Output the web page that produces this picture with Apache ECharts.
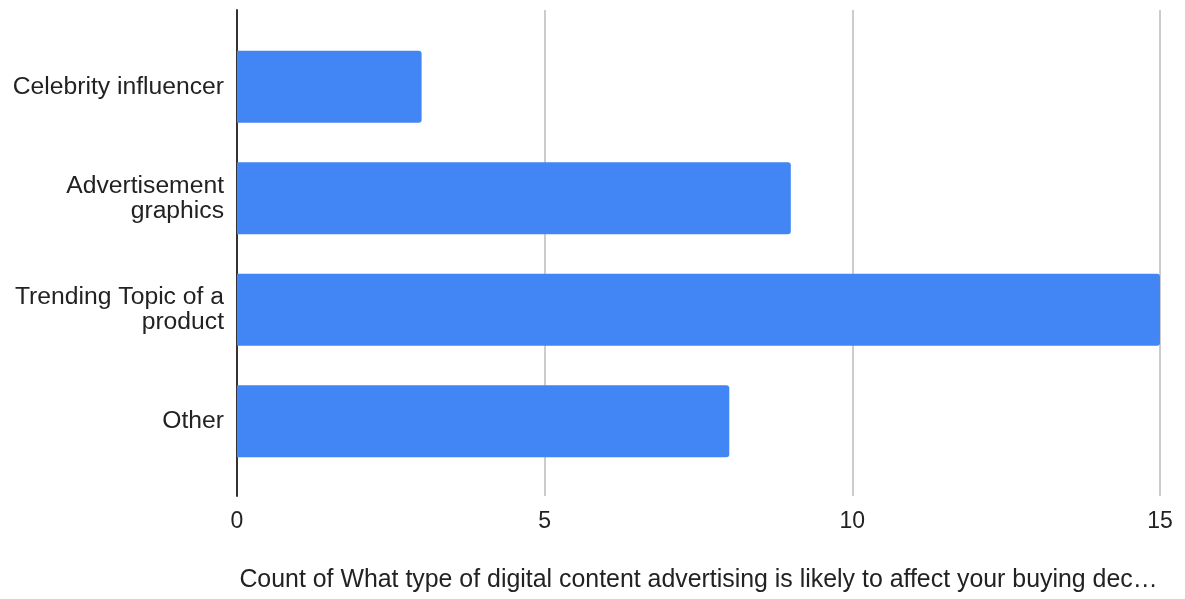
<!DOCTYPE html>
<html>
<head>
<meta charset="utf-8">
<script src="https://cdn.jsdelivr.net/npm/echarts@6/dist/echarts.min.js"></script>
<style>
  html, body { margin: 0; padding: 0; background: #ffffff; }
  #chart { width: 1185px; height: 599px; }
</style>
</head>
<body>
<div id="chart"></div>
<script>
// Answer categories (top to bottom) and their response counts
const categories = [
  'Celebrity influencer',
  'Advertisement\ngraphics',
  'Trending Topic of a\nproduct',
  'Other'
];
const counts = [3, 9, 15, 8];
const xTicks = { min: 0, max: 15, interval: 5 };
const xTitle = 'Count of What type of digital content advertising is likely to affect your buying dec\u2026';

const FONT = 'Liberation Sans, Arial, sans-serif';
const chart = echarts.init(document.getElementById('chart'), null, { renderer: 'canvas' });

chart.setOption({
  animation: false,
  backgroundColor: '#ffffff',
  textStyle: { fontFamily: FONT },
  grid: [
    // frame grid: gridlines, baseline and tick labels
    { left: 237, right: 25, top: 10, bottom: 103, outerBoundsMode: 'none', containLabel: false },
    // bar grid: category bands
    { left: 237, right: 25, top: 31, bottom: 122, outerBoundsMode: 'none', containLabel: false }
  ],
  xAxis: [
    {
      gridIndex: 0,
      type: 'value',
      min: xTicks.min, max: xTicks.max, interval: xTicks.interval,
      axisLine: { show: false },
      axisTick: { show: false },
      splitLine: { show: true, lineStyle: { color: '#cccccc', width: 2 } },
      axisLabel: { color: '#222222', fontSize: 23, fontFamily: FONT, margin: 14 },
      name: xTitle,
      nameLocation: 'middle',
      nameGap: 72,
      nameTextStyle: { color: '#222222', fontSize: 24.9, fontFamily: FONT }
    },
    {
      gridIndex: 1,
      type: 'value',
      min: xTicks.min, max: xTicks.max,
      show: false
    }
  ],
  yAxis: [
    {
      gridIndex: 0,
      type: 'value',
      axisLine: { show: true, lineStyle: { color: '#333333', width: 2 } },
      axisTick: { show: false },
      axisLabel: { show: false },
      splitLine: { show: false }
    },
    {
      gridIndex: 1,
      type: 'category',
      inverse: true,
      data: categories,
      axisLine: { show: false },
      axisTick: { show: false },
      splitLine: { show: false },
      axisLabel: {
        color: '#222222', fontSize: 24.7, fontFamily: FONT,
        margin: 13, lineHeight: 25, align: 'right'
      }
    }
  ],
  series: [
    {
      type: 'bar',
      xAxisIndex: 1,
      yAxisIndex: 1,
      data: counts,
      barWidth: 72,
      itemStyle: { color: '#4285f4', borderRadius: [0, 3, 3, 0] }
    }
  ]
});
</script>
</body>
</html>
